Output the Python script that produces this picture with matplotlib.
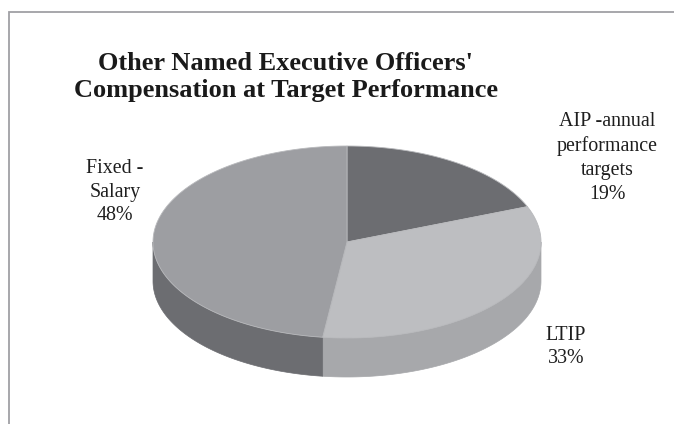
import numpy as np
import matplotlib.pyplot as plt
from matplotlib.patches import Polygon

# data
labels = ['AIP -annual\nperformance\ntargets', 'LTIP', 'Fixed -\nSalary']
values = [19, 33, 48]
top_colors = ['#6c6d71', '#bdbec1', '#9d9ea2']
side_colors = ['#58595d', '#a7a8ab', '#6c6d71']
label_pos = [(607, 158), (566, 347), (115, 192)]
title = "Other Named Executive Officers'\nCompensation at Target Performance"

# pie geometry in pixel coords
cx, cy = 347, 242
rx, ry = 194, 96
depth = 39


def ell(t, dy=0):
    t = np.radians(t)
    return np.column_stack([cx + rx * np.cos(t), cy - ry * np.sin(t) + dy])


def main():
    fig = plt.figure(figsize=(6.74, 4.24), dpi=100)
    ax = fig.add_axes([0, 0, 1, 1])
    ax.set_xlim(0, 674)
    ax.set_ylim(424, 0)
    ax.axis('off')

    # frame of the chart area
    ax.plot([8.5, 8.5, 680], [430, 11.5, 11.5], color='#a0a0a5', lw=1.3,
            solid_joinstyle='miter', clip_on=False)

    fracs = np.array(values, dtype=float) / sum(values)
    ends = 90 - np.cumsum(fracs) * 360
    starts = np.concatenate([[90], ends[:-1]])

    # side walls first (front half only)
    for s, e, col in zip(starts, ends, side_colors):
        lo, hi = e, s
        for k in (-1, 0, 1):
            a = max(lo, 180 + 360 * k)
            b = min(hi, 360 + 360 * k)
            if b <= a:
                continue
            t = np.linspace(a, b, 100)
            pts = np.vstack([ell(t), ell(t[::-1], depth)])
            ax.add_patch(Polygon(pts, closed=True, facecolor=col,
                                 edgecolor=col, lw=0.5, zorder=2))

    # top faces
    for s, e, col in zip(starts, ends, top_colors):
        t = np.linspace(s, e, 200)
        pts = np.vstack([[cx, cy], ell(t)])
        ax.add_patch(Polygon(pts, closed=True, facecolor=col,
                             edgecolor='#b8b9bc', lw=0.6, zorder=3))

    for lab, v, (x, y) in zip(labels, values, label_pos):
        ax.text(x, y, f'{lab}\n{v}%', ha='center', va='center',
                family='Liberation Serif', fontsize=14.4, color='#1e1e1e',
                linespacing=1.35)

    ax.text(286, 77, title, ha='center', va='center',
            family='Liberation Serif', fontweight='bold', fontsize=19,
            color='#1a1a1a', linespacing=1.26)

    fig.savefig('out.png', dpi=100)


if __name__ == '__main__':
    main()
